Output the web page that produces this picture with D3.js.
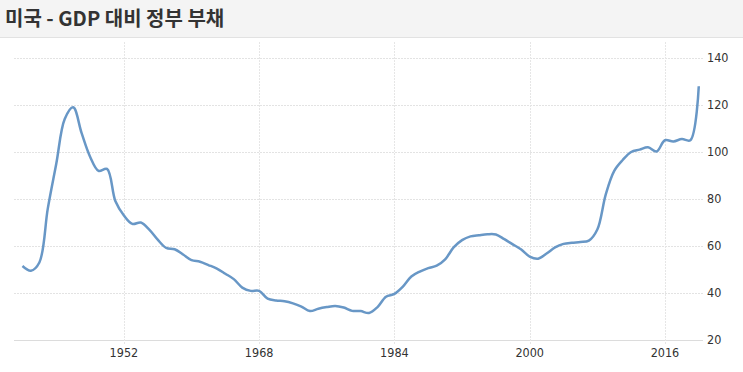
<!DOCTYPE html>
<html>
<head>
<meta charset="utf-8">
<script src="https://cdn.jsdelivr.net/npm/d3@7"></script>
<style>
  body { margin: 0; background: #fff; }
  svg { display: block; font-family: "Noto Sans CJK KR", "Noto Sans", sans-serif; }
</style>
</head>
<body>
<div id="chart"></div>
<script>
var title = "미국 - GDP 대비 정부 부채"
var years = d3.range(1940, 2021)
var debt = [
  51.5, 49.5, 53, 76, 95, 114, 119, 108, 98, 92,
  92.8, 79, 73, 69.4, 70, 67, 62.7, 59.2, 58.6, 56.4,
  54, 53.3, 51.9, 50.4, 48.2, 45.9, 42.3, 40.9, 40.9, 37.6,
  36.8, 36.5, 35.6, 34.2, 32.3, 33.3, 34, 34.5, 33.8, 32.4,
  32.3, 31.5, 34, 38.4, 39.6, 42.7, 47, 49.1, 50.6, 51.6,
  54.3, 59.4, 62.5, 64.1, 64.6, 65, 64.9, 62.9, 60.7, 58.5,
  55.5, 54.6, 56.8, 59.4, 60.9, 61.4, 61.7, 62.3, 67, 82,
  92, 96.6, 100, 101, 102, 100.2, 105, 104.5, 105.5, 105, 128
]
var yTicks = [20, 40, 60, 80, 100, 120, 140]
var xTicks = [1952, 1968, 1984, 2000, 2016]

var width = 743,
    height = 372
var margin = { top: 58, right: 40, bottom: 32, left: 14 }

var svg = d3.select("#chart").append("svg")
    .attr("width", width).attr("height", height)

// header band
svg.append("rect")
    .attr("x", 0).attr("y", 0)
    .attr("width", width).attr("height", 37)
    .style("fill", "#f4f4f4")
svg.append("line")
    .attr("x1", 0).attr("x2", width)
    .attr("y1", 37.5).attr("y2", 37.5)
    .style("stroke", "#e2e2e2")
svg.append("text")
    .attr("x", 5).attr("y", 26)
    .style("font-size", "20px")
    .style("font-weight", "700")
    .style("fill", "#333")
    .text(title)

var xScale = d3.scaleLinear()
    .domain([1939, 2020.5])
    .range([margin.left, width - margin.right])

var yScale = d3.scaleLinear()
    .domain([20, 140])
    .range([height - margin.bottom, margin.top])

// horizontal grid
svg.append("g")
    .selectAll("line")
    .data(yTicks)
    .enter()
    .append("line")
    .attr("x1", margin.left)
    .attr("x2", width - margin.right)
    .attr("y1", function(d){ return Math.round(yScale(d)) + 0.5; })
    .attr("y2", function(d){ return Math.round(yScale(d)) + 0.5; })
    .style("stroke", function(d){ return d == 20 ? "#dcdcdc" : "#e3e3e3"; })
    .style("stroke-dasharray", function(d){ return d == 20 ? null : "2,1"; })

// vertical grid
svg.append("g")
    .selectAll("line")
    .data(xTicks)
    .enter()
    .append("line")
    .attr("x1", function(d){ return Math.round(xScale(d)) + 0.5; })
    .attr("x2", function(d){ return Math.round(xScale(d)) + 0.5; })
    .attr("y1", 42)
    .attr("y2", height - margin.bottom + 5)
    .style("stroke", "#e6e6e6")
    .style("stroke-dasharray", "2,1")

// y labels
svg.append("g")
    .selectAll("text")
    .data(yTicks)
    .enter()
    .append("text")
    .attr("x", 707)
    .attr("y", function(d){ return yScale(d) + 4; })
    .style("font-size", "12.5px")
    .style("font-family", "'DejaVu Sans Condensed', 'Noto Sans', sans-serif")
    .style("fill", "#333")
    .text(function(d){ return d; })

// x labels
svg.append("g")
    .selectAll("text")
    .data(xTicks)
    .enter()
    .append("text")
    .attr("x", function(d){ return xScale(d); })
    .attr("y", height - margin.bottom + 17)
    .attr("text-anchor", "middle")
    .style("font-size", "12.5px")
    .style("font-family", "'DejaVu Sans Condensed', 'Noto Sans', sans-serif")
    .style("fill", "#333")
    .text(function(d){ return d; })

var line = d3.line()
    .x(function(d, i){ return xScale(years[i]); })
    .y(function(d){ return yScale(d); })
    .curve(d3.curveCatmullRom.alpha(0.5))

svg.append("path")
    .datum(debt)
    .attr("d", line)
    .style("fill", "none")
    .style("stroke", "#6897c6")
    .style("stroke-width", "2.5")
</script>
</body>
</html>
